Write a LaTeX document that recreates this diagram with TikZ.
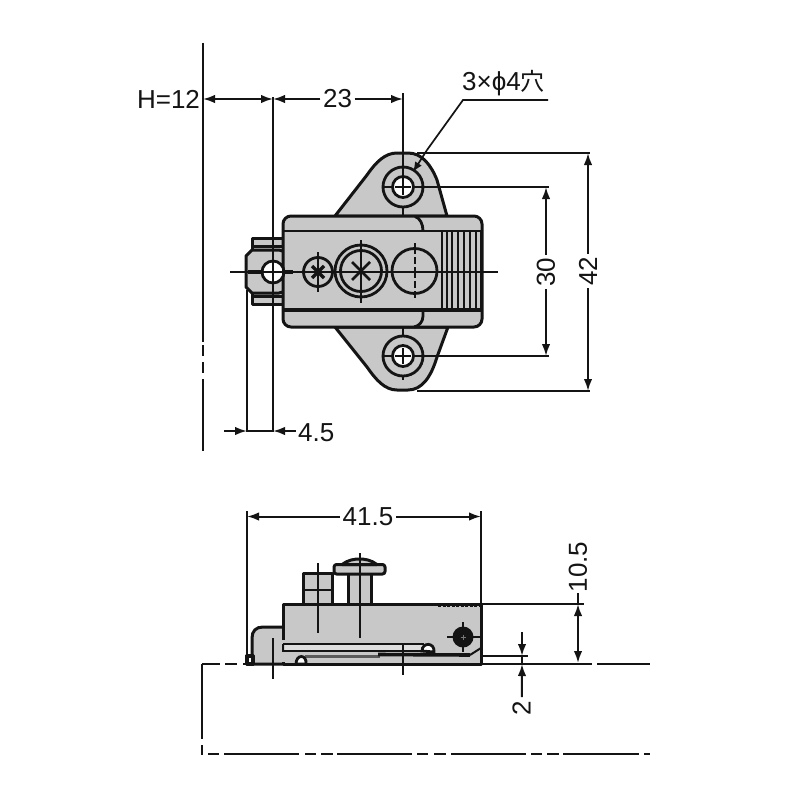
\documentclass[tikz,border=0pt]{standalone}
\usepackage{fontspec}
\setmainfont{Liberation Sans}
\newfontfamily\cjkfont{Noto Sans CJK JP}
\usetikzlibrary{arrows.meta}
\definecolor{partgrey}{RGB}{200,200,200}
\definecolor{inkblack}{RGB}{20,20,20}
\tikzset{
  part/.style={draw=inkblack,line width=3pt,fill=partgrey,line join=round},
  edge/.style={draw=inkblack,line width=2.8pt},
  thinedge/.style={draw=inkblack,line width=2pt},
  centerline/.style={draw=inkblack,line width=2pt},
  refline/.style={draw=inkblack,line width=2pt},
  dimline/.style={draw=inkblack,line width=2pt},
  tip/.style={-{Latex[length=12pt,width=8.5pt]}},
  dimtext/.style={font=\fontsize{26}{26}\selectfont,text=inkblack,inner sep=2.5pt}
}
\begin{document}
\begin{tikzpicture}[x=1pt,y=-1pt]
\useasboundingbox[fill=white] (0,0) rectangle (800,800);

% ---------- top view: plate ----------
\path[part] (335,216) -- (367,175) .. controls (376,162) and (385,153) .. (397,153)
  -- (408,153) .. controls (422,153) and (431,165) .. (437,180) -- (447,216) -- (335,216) -- cycle;
\path[part] (335,327) -- (367,367) .. controls (376,380) and (385,390) .. (397,390)
  -- (408,390) .. controls (422,390) and (431,377) .. (437,357) -- (448,327) -- cycle;
% clamp piece on the left
\path[part] (283,238) -- (252,238) -- (252,304) -- (283,304) -- cycle;
\draw[edge] (252,246.5) -- (283,246.5) (252,296.5) -- (283,296.5);
\path[part] (252,250) -- (246,256) -- (246,287) -- (252,293) -- (279,293)
  .. controls (289,291) and (296,283) .. (296,272) .. controls (296,261) and (289,252) .. (279,250) -- cycle;
% body
\path[part,rounded corners=8pt] (283,216) rectangle (482,327);
\draw[edge] (415,216.5) .. controls (420,218) and (423,224) .. (423,231);
\draw[draw=inkblack,line width=3.4pt] (284,310) -- (481,310);
\draw[edge] (284,231) -- (481,231);
\draw[edge] (423,310) -- (423,316) .. controls (423,322) and (419,326) .. (414,327);
\foreach \ribx in {442,447,452,458,464,470,476,481}
  \draw[thinedge] (\ribx,231) -- (\ribx,310);

% fixing holes
\foreach \holey in {187,356} {
  \draw[thinedge] (382,\holey) -- (425,\holey);
  \draw[edge] (403,\holey) circle (20);
  \draw[edge,fill=white] (403,\holey) circle (10.5);
  \draw[thinedge] (395,\holey) -- (411,\holey) (403,\holey-8) -- (403,\holey+8);
}
\draw[thinedge] (403,376) -- (403,380);
\draw[thinedge] (403,207) -- (403,216);
\draw[thinedge] (403,327) -- (403,336);

% screws
\draw[edge] (318,272) circle (14.5);
\draw[draw=inkblack,line width=3.2pt] (312,266) -- (324,278) (324,266) -- (312,278);
\draw[edge] (361,271) circle (26);
\draw[edge] (361,271) circle (20.5);
\draw[draw=inkblack,line width=2.6pt] (352,262) -- (370,280) (370,262) -- (352,280);
\draw[edge] (414.5,271) circle (22.5);
\draw[thinedge] (318,252) -- (318,292);
\draw[thinedge] (361,240) -- (361,303);
\draw[thinedge,dash pattern=on 11pt off 3pt on 7pt off 3pt] (415,243) -- (415,298);

% clamp hole and centre line
\draw[edge,fill=white] (273,272) circle (11);
\draw[centerline] (230,272) -- (498,272);
\draw[draw=inkblack,line width=3.4pt] (248,272) -- (262,272);
\draw[draw=inkblack,line width=3.4pt] (282,272) -- (293,272);

% ---------- top view: reference lines ----------
\draw[refline] (203,43) -- (203,342) (203,345) -- (203,356) (203,362) -- (203,373) (203,379) -- (203,451);
\draw[refline] (273,97) -- (273,432);
\draw[refline] (247,290) -- (247,432);
\draw[refline] (403,93) -- (403,187);
\draw[refline] (417,153) -- (590,153);
\draw[refline] (425,187) -- (549,187);
\draw[refline] (425,356) -- (549,356);
\draw[refline] (417,391) -- (590,391);

% ---------- top view: dimensions ----------
\node[dimtext] (hval) at (168.5,99) {H=12};
\coordinate (refh) at (203,99);
\coordinate (refa) at (273,99);
\coordinate (refb) at (403,99);
\draw[dimline,{Latex[length=12pt,width=8.5pt]}-{Latex[length=12pt,width=8.5pt]}] (refh) -- (refa);
\node[dimtext] (dimb) at (337.5,99) {23};
\draw[dimline,tip] (dimb) -- (refa);
\draw[dimline,tip] (dimb) -- (refb);

\node[dimtext,font=\fontsize{26}{26}\selectfont,anchor=west,inner sep=0pt] (holes) at (462,83) {3×ϕ4{\cjkfont\fontsize{24}{24}\selectfont 穴}};
\coordinate (leadend) at (548,100);
\coordinate (leadknee) at (463,100);
\coordinate (leadtip) at (413,172);
\draw[draw=inkblack,line width=1.7pt] (leadend) -- (leadknee) -- (427,150);
\draw[draw=inkblack,line width=1.7pt,-{Latex[length=10pt,width=8pt]}] (427,150) -- (leadtip);

\node[dimtext,rotate=90] (dimc) at (546,272) {30};
\coordinate (c30a) at (546,187);
\coordinate (c30b) at (546,356);
\draw[dimline,tip] (dimc) -- (c30a);
\draw[dimline,tip] (dimc) -- (c30b);
\node[dimtext,rotate=90] (dimd) at (588,271) {42};
\coordinate (c42a) at (588,153);
\coordinate (c42b) at (588,391);
\draw[dimline,tip] (dimd) -- (c42a);
\draw[dimline,tip] (dimd) -- (c42b);

\coordinate (c45a) at (247,431);
\coordinate (c45b) at (273,431);
\coordinate (c45l) at (224,431);
\node[dimtext,anchor=west,inner sep=0pt] (dime) at (298,433) {4.5};
\draw[dimline] (c45a) -- (c45b);
\draw[dimline,tip] (c45l) -- (c45a);
\draw[dimline,tip] (296,431) -- (c45b);

% ---------- side view ----------
\path[part] (252,664) -- (252,638) .. controls (252,631) and (256,627) .. (263,627) -- (284,627) -- (284,664) -- cycle;
\path[part] (246.5,664) rectangle (253,655);
\draw[draw=inkblack,line width=1.5pt,fill=white] (248,657.5) rectangle (251.5,662.5);
\path[part] (283,604) rectangle (481,664);
\path[fill=partgrey] (255,640) rectangle (290,662);
\draw[edge] (283,604) -- (283,627);
% screw block
\path[part] (303,573) rectangle (332,604);
\draw[edge] (303,590) -- (332,590);
% big screw
\path[part] (348.5,573) rectangle (371,604);
\path[part,rounded corners=2.5pt] (334,564.5) rectangle (385,574);
\path[part] (342,564.5) .. controls (348,560) and (354,559) .. (359.5,559) .. controls (365,559) and (371,560) .. (377,564.5) -- cycle;
% slots
\path[fill=partgrey!60!white] (285,645) rectangle (424,650);
\draw[edge] (283,644) -- (424,644);
\draw[edge] (283,644) -- (283,651) -- (422,651);
\draw[draw=partgrey!45!black,line width=3pt] (305,656) -- (380,656);
\draw[draw=inkblack,line width=3.6pt] (378,654.5) -- (470,655);
\draw[draw=inkblack,line width=2pt] (470,655) -- (481,648);
\draw[edge,fill=white] (422,651) .. controls (422,642) and (435,642) .. (434,652) -- cycle;
\draw[edge,fill=white] (296,664) .. controls (296,654) and (307,654) .. (306,664) -- cycle;
\draw[edge] (246,664) -- (481,664);
% teeth
\draw[draw=inkblack,line width=2.4pt,dash pattern=on 3pt off 1.5pt] (438,605.5) -- (481,605.5);
% black knob
\draw[thinedge] (447,637) -- (481,637) (463,622) -- (463,652);
\node[circle,fill=inkblack,minimum size=21pt,inner sep=0pt] (knob) at (463,637) {};
\draw[draw=partgrey!60!black,line width=1pt] (460.5,637) -- (465.5,637) (463,634.5) -- (463,639.5);
% side centre lines
\draw[thinedge] (318,563) -- (318,633);
\draw[thinedge] (360,553) -- (360,638);
\draw[thinedge] (403,645) -- (403,675);
\draw[thinedge] (273,638) -- (273,679);

% ---------- side view: reference lines ----------
\draw[refline] (247,511) -- (247,660);
\draw[refline] (481,511) -- (481,664);
\draw[refline] (481,604) -- (584,604);
\draw[refline] (481,656) -- (528,656);
\draw[refline] (202,664) -- (220,664) (225,664) -- (237,664) (243,664) -- (592,664) (597,664) -- (650,664);
\draw[refline] (202,664) -- (202,739) (202,745) -- (202,755);
\foreach \da/\db in {208/219,224/299,305/316,321/333,337/412,417/428,434/446,451/526,531/542,547/559,563/639,644/650}
  \draw[refline] (\da,754) -- (\db,754);

% ---------- side view: dimensions ----------
\node[dimtext] (dimf) at (368,516.5) {41.5};
\coordinate (c41a) at (247,516.5);
\coordinate (c41b) at (481,516.5);
\draw[dimline,tip] (dimf) -- (c41a);
\draw[dimline,tip] (dimf) -- (c41b);

\node[dimtext,rotate=90,inner sep=0pt] (dimg) at (578,567) {10.5};
\coordinate (c10a) at (578,604);
\coordinate (c10b) at (578,663);
\draw[dimline,{Latex[length=12pt,width=8.5pt]}-{Latex[length=12pt,width=8.5pt]}] (c10a) -- (c10b);
\draw[dimline] (c10a) -- (dimg);

\coordinate (c2a) at (522,656);
\coordinate (c2b) at (522,664);
\draw[dimline] (c2a) -- (c2b);
\draw[dimline,tip] (522,632) -- (c2a);
\node[dimtext,rotate=90,inner sep=0pt] (dimh) at (521.5,708) {2};
\draw[dimline,tip] (521.9,697) -- (c2b);
\end{tikzpicture}
\end{document}
